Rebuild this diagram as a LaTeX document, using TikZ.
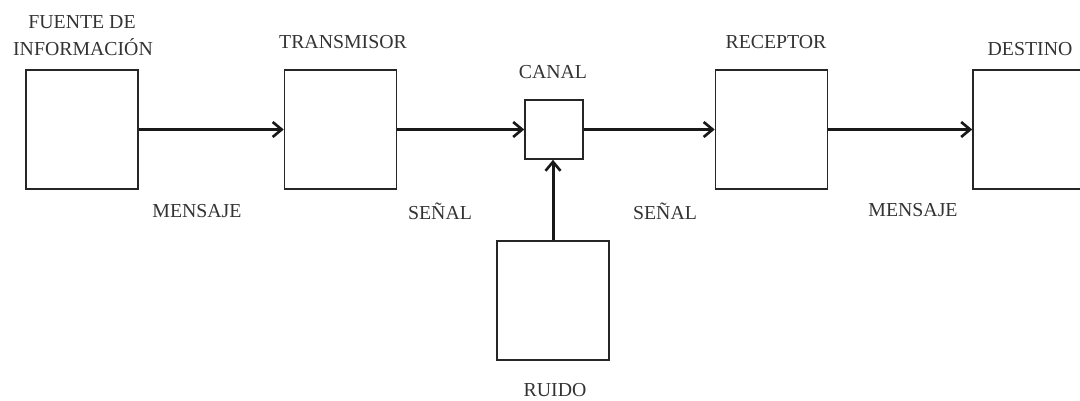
\documentclass[tikz,border=0pt]{standalone}
\usepackage{fontspec}
\setmainfont{Liberation Serif}
\usetikzlibrary{arrows.meta}
\begin{document}
\begin{tikzpicture}[x=1pt,y=-1pt,
  block/.style={draw=black!85, line width=1.6pt, fill=white, inner sep=0pt, minimum width=112pt, minimum height=119pt},
  smallblock/.style={block, minimum width=58pt, minimum height=59pt},
  lbl/.style={font=\fontsize{19.8}{21}\selectfont, text=black!80, inner sep=0pt, align=center},
  flow/.style={draw=black!90, line width=3pt, -{Straight Barb[length=9pt,width=15pt,line width=2.6pt]}}
]
\useasboundingbox (0,0) rectangle (1080,401);
\clip (0,0) rectangle (1080,401);

% blocks of the chain
\node[block] (fuente) at (82,129.5) {};
\node[block] (trans) at (340.5,129.5) {};
\node[smallblock] (canal) at (554,129.5) {};
\node[block] (recep) at (771.5,129.5) {};
\node[block] (dest) at (1029,129.5) {};
\node[block] (ruido) at (553,300.5) {};

% block titles
\node[lbl] (tf1) at (82,22) {FUENTE DE};
\node[lbl] (tf2) at (83,47) {INFORMACIÓN};
\node[lbl] (tt) at (343,42.5) {TRANSMISOR};
\node[lbl] (tc) at (553,72) {CANAL};
\node[lbl] (tr) at (776,42) {RECEPTOR};
\node[lbl] (td) at (1030,49.5) {DESTINO};
\node[lbl] (tru) at (555,390.5) {RUIDO};

% signal labels
\node[lbl] (m1) at (197,211) {MENSAJE};
\node[lbl] (s1) at (440,211) {SEÑAL};
\node[lbl] (s2) at (665,211) {SEÑAL};
\node[lbl] (m2) at (913,210) {MENSAJE};

% connectors
\draw[flow] (fuente.east) -- (trans.west);
\draw[flow] (trans.east) -- (canal.west);
\draw[flow] (canal.east) -- (recep.west);
\draw[flow] (recep.east) -- (dest.west);
\draw[flow] (ruido.north) -- (ruido.north |- canal.south);
\end{tikzpicture}
\end{document}
